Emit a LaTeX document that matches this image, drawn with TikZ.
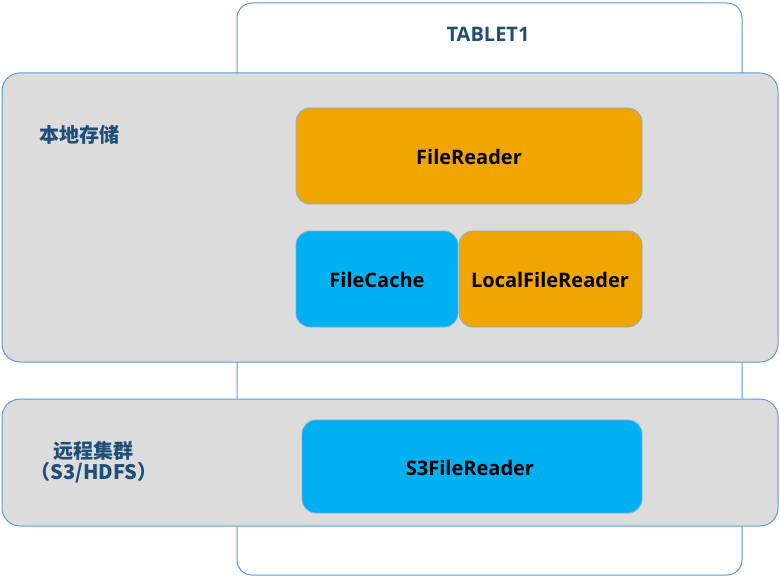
\documentclass[tikz,border=0pt]{standalone}
\usepackage{fontspec}
\setmainfont{Open Sans}
\newfontfamily\cjk{Noto Sans CJK SC}
\definecolor{bordb}{HTML}{5B9BD5}
\definecolor{bandg}{HTML}{DCDCDC}
\definecolor{orng}{HTML}{F0A500}
\definecolor{cyanb}{HTML}{00B0F0}
\definecolor{txtb}{HTML}{1F4E79}
\begin{document}
\begin{tikzpicture}[x=1pt,y=-1pt,
  band/.style={draw=bordb,line width=1pt,fill=bandg,rounded corners=18pt},
  blk/.style={draw=bordb!80,line width=0.8pt,rounded corners=14pt},
  lbl/.style={font=\fontsize{20}{22}\selectfont\bfseries,text=black},
  cjklbl/.style={font=\cjk\fontsize{20}{21.5}\selectfont\bfseries,text=txtb,align=center}]
\useasboundingbox (0,0) rectangle (780,578);
\draw[draw=bordb,line width=1pt,fill=white,rounded corners=15pt] (237,3) rectangle (742,575);
\node[font=\fontsize{20}{22}\selectfont\bfseries,text=txtb] (tablet) at (488,34) {TABLET1};
\draw[band] (2,73) rectangle (778,362);
\draw[band] (2,399) rectangle (778,526);
\node[cjklbl] (local) at (79,135) {本地存储};
\node[cjklbl] (remote) at (94,462) {远程集群\\（S3/HDFS）};
\draw[blk,fill=orng] (296,108) rectangle (642,204);
\node[lbl] (fr) at (469,157) {FileReader};
\draw[blk,fill=cyanb] (296,231) rectangle (458,327);
\node[lbl] (fc) at (377,280) {FileCache};
\draw[blk,fill=orng] (459,231) rectangle (642,327);
\node[lbl] (lfr) at (550,280) {LocalFileReader};
\draw[blk,fill=cyanb] (302,420) rectangle (642,513);
\node[lbl] (s3) at (470,468) {S3FileReader};
\end{tikzpicture}
\end{document}
